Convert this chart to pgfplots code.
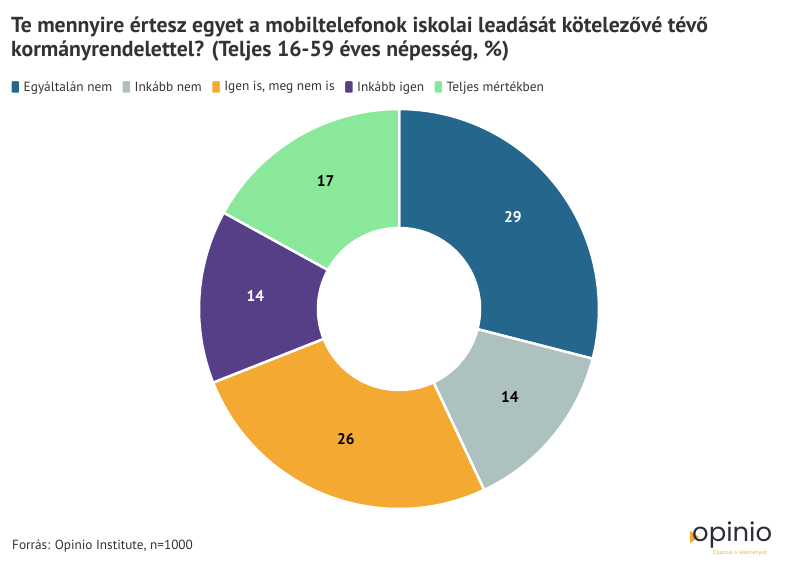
\documentclass[border=0pt]{standalone}
\usepackage{fontspec}
\setmainfont{PT Sans}
\newfontfamily\logofont{Poppins}
\usepackage{pgfplots}
\usepackage{pgfplotstable}
\pgfplotsset{compat=1.18}
\definecolor{cA}{HTML}{25668C}
\definecolor{cB}{HTML}{ADC2C0}
\definecolor{cC}{HTML}{F4A933}
\definecolor{cD}{HTML}{573F88}
\definecolor{cE}{HTML}{8AE89A}
\definecolor{txt}{HTML}{333333}
\definecolor{logo}{HTML}{2B2B3A}

\pgfplotstableread[col sep=semicolon]{
label;value;color;labcol
Egyáltalán nem;29;cA;white
Inkább nem;14;cB;black
Igen is, meg nem is;26;cC;black
Inkább igen;14;cD;white
Teljes mértékben;17;cE;black
}\data

\begin{document}
\begin{tikzpicture}
\begin{axis}[
  scale only axis, width=796bp, height=575bp,
  xmin=0, xmax=796, ymin=0, ymax=575,
  hide axis, clip=false,
  legend columns=-1,
  legend style={at={(axis cs:9,488)}, anchor=west, draw=none, fill=none,
    font=\fontsize{13.4}{15}\selectfont, text=txt, inner sep=0pt,
    /tikz/every even column/.append style={column sep=6bp}},
  legend image code/.code={\fill[rounded corners=2bp] (0bp,-7bp) rectangle (10bp,7bp);},
]
\def\cx{399}\def\cy{266}\def\RR{200}\def\rr{81}
\pgfmathsetmacro\cum{0}
\pgfplotsforeachungrouped \i in {0,...,4}{%
  \pgfplotstablegetelem{\i}{value}\of\data \let\v\pgfplotsretval
  \pgfplotstablegetelem{\i}{color}\of\data \let\col\pgfplotsretval
  \pgfplotstablegetelem{\i}{labcol}\of\data \let\lc\pgfplotsretval
  \pgfplotstablegetelem{\i}{label}\of\data \let\lab\pgfplotsretval
  \pgfmathsetmacro\aone{90-3.6*\cum}%
  \pgfmathsetmacro\atwo{90-3.6*(\cum+\v)}%
  \pgfmathsetmacro\amid{90-3.6*(\cum+\v/2)}%
  \pgfmathsetmacro\lx{\cx+144*cos(\amid)}%
  \pgfmathsetmacro\ly{\cy+4+144*sin(\amid)}%
  \edef\doplot{%
    \noexpand\addplot[fill=\col, draw=white, line width=2.5bp, line join=round, samples at={0,...,101}]
      ({\cx+ifthenelse(x<=50,\RR,\rr)*cos(ifthenelse(x<=50,\aone+(\atwo-\aone)*x/50,\atwo-(\atwo-\aone)*(x-51)/50))},
       {\cy+ifthenelse(x<=50,\RR,\rr)*sin(ifthenelse(x<=50,\aone+(\atwo-\aone)*x/50,\atwo-(\atwo-\aone)*(x-51)/50))}) -- cycle;
    \noexpand\addlegendentry{\lab}
    \noexpand\node[text=\lc, font=\noexpand\bfseries\noexpand\fontsize{15.5}{18}\noexpand\selectfont] at (axis cs:\lx,\ly) {\v};
  }%
  \doplot
  \pgfmathsetmacro\cum{\cum+\v}%
}
\node[anchor=base west, font=\bfseries\fontsize{21.8}{24}\selectfont, text=txt, inner sep=0pt] at (axis cs:11,542) {Te mennyire értesz egyet a mobiltelefonok iskolai leadását kötelezővé tévő};
\node[anchor=base west, font=\bfseries\fontsize{21.8}{24}\selectfont, text=txt, inner sep=0pt] at (axis cs:11,518) {kormányrendelettel? (Teljes 16-59 éves népesség, \%)};
\node[anchor=base west, font=\fontsize{13.3}{15}\selectfont, text=txt, inner sep=0pt] at (axis cs:12,25) {Forrás: Opinio Institute, n=1000};
\fill[cC] (axis cs:690,44) -- (axis cs:699,38) -- (axis cs:690,32) -- cycle;
\node[anchor=base west, font=\logofont\fontsize{26}{28}\selectfont, text=logo, inner sep=0pt] at (axis cs:692,33) {opinio};
\node[anchor=base west, font=\fontsize{5.5}{6}\selectfont, text=cC, inner sep=0pt] at (axis cs:713,20) {Díjazzuk a véleményed};
\end{axis}
\path (current axis.south west) rectangle (current axis.north east);
\end{tikzpicture}
\end{document}
